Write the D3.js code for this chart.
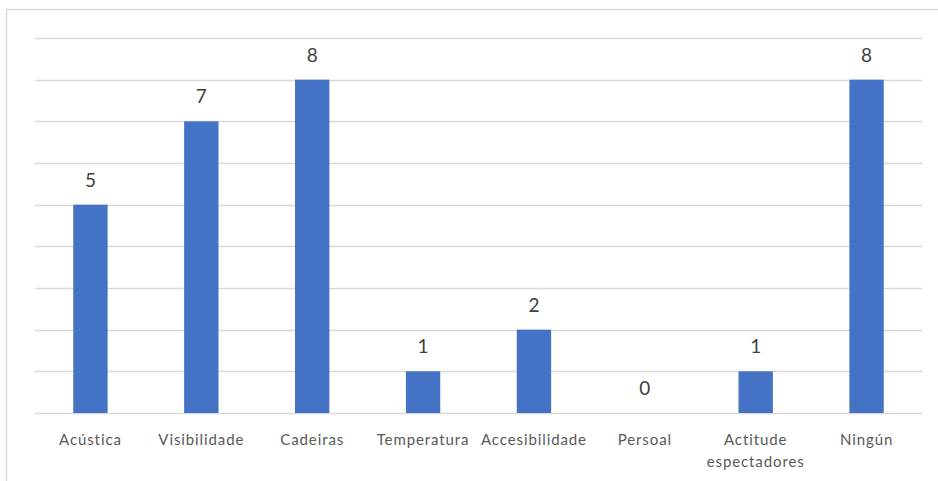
<!DOCTYPE html>
<html>
<head>
<meta charset="utf-8">
<script src="https://cdn.jsdelivr.net/npm/d3@7"></script>
<style>
  html, body { margin: 0; padding: 0; background: #fff; }
  svg { display: block; }
</style>
</head>
<body>
<svg id="chart" width="938" height="481"></svg>
<script>
// Responses per category
const categories = ["Acústica", "Visibilidade", "Cadeiras", "Temperatura", "Accesibilidade", "Persoal", "Actitude espectadores", "Ningún"];
const values = [5, 7, 8, 1, 2, 0, 1, 8];
const yTicks = [0, 1, 2, 3, 4, 5, 6, 7, 8, 9];

const svg = d3.select("#chart");
const W = 938, H = 481;
const plot = { left: 35, right: 922, top: 38, bottom: 413 };

// Chart frame
svg.append("rect")
  .attr("x", 6.5).attr("y", 9.5)
  .attr("width", W + 20).attr("height", H + 20)
  .attr("fill", "#fff").attr("stroke", "#d9d9d9").attr("stroke-width", 1.5);

const x = d3.scaleBand().domain(categories).range([plot.left, plot.right]).padding(0);
const y = d3.scaleLinear().domain([0, 9]).range([plot.bottom, plot.top]);

// Horizontal gridlines
svg.append("g")
  .selectAll("line")
  .data(yTicks)
  .join("line")
  .attr("x1", plot.left).attr("x2", plot.right)
  .attr("y1", d => Math.round(y(d)) + 0.5).attr("y2", d => Math.round(y(d)) + 0.5)
  .attr("stroke", "#d9d9d9").attr("stroke-width", 1.5);

const barW = x.bandwidth() * 0.31;

// Bars
svg.append("g")
  .selectAll("rect")
  .data(values)
  .join("rect")
  .attr("x", (d, i) => x(categories[i]) + (x.bandwidth() - barW) / 2)
  .attr("y", d => y(d))
  .attr("width", barW)
  .attr("height", d => y(0) - y(d))
  .attr("fill", "#4472c4");

// Value labels
svg.append("g")
  .selectAll("text")
  .data(values)
  .join("text")
  .attr("x", (d, i) => x(categories[i]) + x.bandwidth() / 2)
  .attr("y", d => y(d) - 18)
  .attr("text-anchor", "middle")
  .attr("font-family", "Lato, 'Open Sans', sans-serif")
  .attr("font-size", 19)
  .attr("fill", "#404040")
  .text(d => d);

// Category axis labels
const xAxis = d3.axisBottom(x).tickSize(0).tickPadding(0);
const gx = svg.append("g").attr("transform", `translate(0,${plot.bottom})`).call(xAxis);
gx.select(".domain").remove();
gx.selectAll(".tick text").remove();
gx.selectAll(".tick").each(function(d) {
  const t = d3.select(this).append("text")
    .attr("text-anchor", "middle")
    .attr("font-family", "Lato, 'Open Sans', sans-serif")
    .attr("font-size", 15)
    .attr("letter-spacing", 0.9)
    .attr("fill", "#595959");
  const lines = d === "Actitude espectadores" ? ["Actitude", "espectadores"] : [d];
  lines.forEach((ln, k) => {
    t.append("tspan").attr("x", 0).attr("y", 32 + k * 22).text(ln);
  });
});
</script>
</body>
</html>
